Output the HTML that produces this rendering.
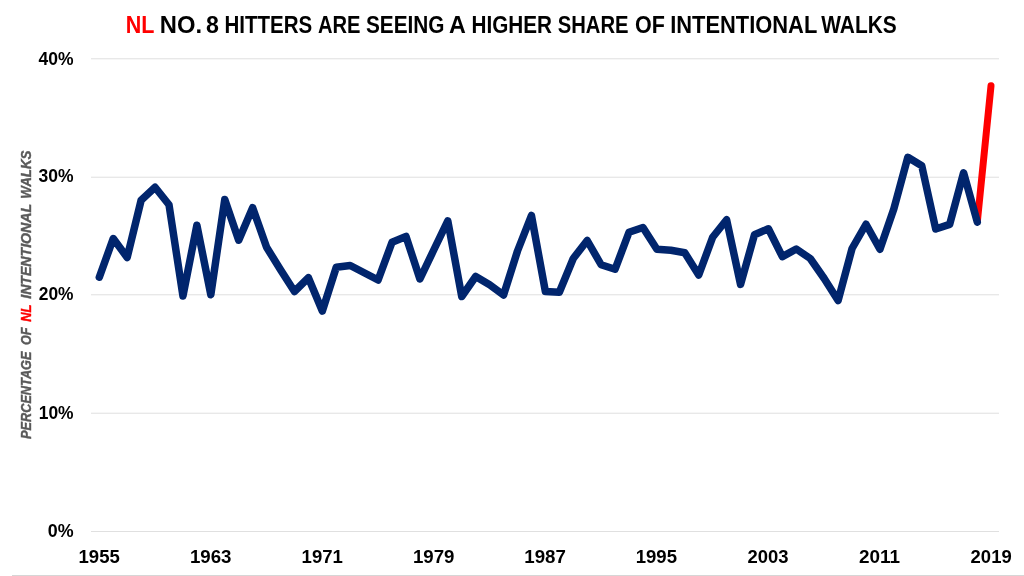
<!DOCTYPE html>
<html lang="en"><head><meta charset="utf-8"><title>NL No. 8 hitters are seeing a higher share of intentional walks</title>
<style>
html,body{margin:0;padding:0;background:#fff;}
body{width:1024px;height:576px;overflow:hidden;}
svg{display:block;}
text{font-family:"Liberation Sans",sans-serif;font-weight:bold;}
</style></head><body>
<svg role="img" aria-label="NL No. 8 hitters are seeing a higher share of intentional walks" width="1024" height="576" viewBox="0 0 1024 576">
<rect width="1024" height="576" fill="#fff"/>
<g shape-rendering="crispEdges">
<rect x="91" y="58" width="907.5" height="1" fill="#e8e8e8"/><rect x="91" y="59" width="907.5" height="1" fill="#f6f6f6"/>
<rect x="91" y="177" width="907.5" height="1" fill="#e8e8e8"/><rect x="91" y="176" width="907.5" height="1" fill="#f6f6f6"/>
<rect x="91" y="294" width="907.5" height="1" fill="#e8e8e8"/><rect x="91" y="295" width="907.5" height="1" fill="#f6f6f6"/>
<rect x="91" y="413" width="907.5" height="1" fill="#e8e8e8"/><rect x="91" y="412" width="907.5" height="1" fill="#f6f6f6"/>
<rect x="91" y="531" width="907.5" height="1" fill="#e0e0e0"/>
<rect x="12" y="575" width="1012" height="1" fill="#d6d6d6"/>
</g>
<text x="125.75" y="32.50" font-size="23.1" fill="#ff0000" textLength="28.68" lengthAdjust="spacingAndGlyphs">NL</text>
<text x="159.75" y="32.50" font-size="23.1" fill="#000" textLength="42.28" lengthAdjust="spacingAndGlyphs">NO.</text>
<text x="206.00" y="32.50" font-size="23.1" fill="#000" textLength="12.89" lengthAdjust="spacingAndGlyphs">8</text>
<text x="224.50" y="32.50" font-size="23.1" fill="#000" textLength="87.81" lengthAdjust="spacingAndGlyphs">HITTERS</text>
<text x="318.00" y="32.50" font-size="23.1" fill="#000" textLength="42.55" lengthAdjust="spacingAndGlyphs">ARE</text>
<text x="366.00" y="32.50" font-size="23.1" fill="#000" textLength="78.55" lengthAdjust="spacingAndGlyphs">SEEING</text>
<text x="449.00" y="32.50" font-size="23.1" fill="#000" textLength="16.85" lengthAdjust="spacingAndGlyphs">A</text>
<text x="471.50" y="32.50" font-size="23.1" fill="#000" textLength="80.55" lengthAdjust="spacingAndGlyphs">HIGHER</text>
<text x="557.75" y="32.50" font-size="23.1" fill="#000" textLength="70.78" lengthAdjust="spacingAndGlyphs">SHARE</text>
<text x="635.00" y="32.50" font-size="23.1" fill="#000" textLength="29.86" lengthAdjust="spacingAndGlyphs">OF</text>
<text x="670.25" y="32.50" font-size="23.1" fill="#000" textLength="147.03" lengthAdjust="spacingAndGlyphs">INTENTIONAL</text>
<text x="821.25" y="32.50" font-size="23.1" fill="#000" textLength="75.51" lengthAdjust="spacingAndGlyphs">WALKS</text>
<text x="38.50" y="64.50" font-size="18.2" fill="#000" textLength="35.02" lengthAdjust="spacingAndGlyphs">40%</text>
<text x="38.50" y="182.00" font-size="18.2" fill="#000" textLength="35.03" lengthAdjust="spacingAndGlyphs">30%</text>
<text x="38.75" y="300.25" font-size="18.2" fill="#000" textLength="34.78" lengthAdjust="spacingAndGlyphs">20%</text>
<text x="38.75" y="418.50" font-size="18.2" fill="#000" textLength="34.84" lengthAdjust="spacingAndGlyphs">10%</text>
<text x="47.75" y="536.50" font-size="18.2" fill="#000" textLength="25.81" lengthAdjust="spacingAndGlyphs">0%</text>
<text x="78.55" y="562.50" font-size="18.2" fill="#000" textLength="41.32" lengthAdjust="spacingAndGlyphs">1955</text>
<text x="189.93" y="562.50" font-size="18.2" fill="#000" textLength="41.59" lengthAdjust="spacingAndGlyphs">1963</text>
<text x="301.56" y="562.50" font-size="18.2" fill="#000" textLength="41.33" lengthAdjust="spacingAndGlyphs">1971</text>
<text x="412.95" y="562.50" font-size="18.2" fill="#000" textLength="41.59" lengthAdjust="spacingAndGlyphs">1979</text>
<text x="524.33" y="562.50" font-size="18.2" fill="#000" textLength="41.60" lengthAdjust="spacingAndGlyphs">1987</text>
<text x="635.71" y="562.50" font-size="18.2" fill="#000" textLength="41.33" lengthAdjust="spacingAndGlyphs">1995</text>
<text x="747.59" y="562.50" font-size="18.2" fill="#000" textLength="41.04" lengthAdjust="spacingAndGlyphs">2003</text>
<text x="858.97" y="562.50" font-size="18.2" fill="#000" textLength="41.04" lengthAdjust="spacingAndGlyphs">2011</text>
<text x="970.61" y="562.50" font-size="18.2" fill="#000" textLength="41.05" lengthAdjust="spacingAndGlyphs">2019</text>
<text transform="translate(30.60,439.00) rotate(-90)" font-size="14.2" font-style="italic" stroke="#595959" stroke-width="0.4" fill="#595959" textLength="87.50" lengthAdjust="spacingAndGlyphs">PERCENTAGE</text>
<text transform="translate(30.60,345.00) rotate(-90)" font-size="14.2" font-style="italic" stroke="#595959" stroke-width="0.4" fill="#595959" textLength="17.51" lengthAdjust="spacingAndGlyphs">OF</text>
<text transform="translate(30.60,321.75) rotate(-90)" font-size="14.2" font-style="italic" stroke="#ff0000" stroke-width="0.4" fill="#ff0000" textLength="17.31" lengthAdjust="spacingAndGlyphs">NL</text>
<text transform="translate(30.60,298.75) rotate(-90)" font-size="14.2" font-style="italic" stroke="#595959" stroke-width="0.4" fill="#595959" textLength="94.76" lengthAdjust="spacingAndGlyphs">INTENTIONAL</text>
<text transform="translate(30.60,198.75) rotate(-90)" font-size="14.2" font-style="italic" stroke="#595959" stroke-width="0.4" fill="#595959" textLength="48.28" lengthAdjust="spacingAndGlyphs">WALKS</text>
<line x1="977.46" y1="220.51" x2="991.00" y2="85.80" stroke="#ff0000" stroke-width="7" stroke-linecap="round"/>
<polyline points="99.30,277.25 113.24,238.50 127.18,257.45 141.12,200.25 155.06,187.25 169.00,204.75 182.94,296.00 196.88,225.25 210.82,294.75 224.76,199.50 238.70,240.20 252.64,207.75 266.58,247.25 280.52,269.75 294.46,291.50 308.40,277.75 322.34,311.00 336.28,267.25 350.22,265.50 364.16,272.75 378.10,280.00 392.04,242.25 405.98,236.50 419.92,279.00 433.86,249.75 447.80,220.90 461.74,296.50 475.68,276.50 489.62,284.75 503.56,295.00 517.50,251.00 531.44,215.50 545.38,291.50 559.32,292.25 573.26,258.50 587.20,240.50 601.14,264.75 615.08,269.25 629.02,232.25 642.96,227.50 656.90,249.25 670.84,250.25 684.78,252.75 698.72,274.95 712.66,237.25 726.60,219.75 740.54,284.45 754.48,234.75 768.42,228.75 782.36,256.65 796.30,249.00 810.24,258.50 824.18,278.50 838.12,300.50 852.06,248.50 866.00,224.25 879.94,249.25 893.88,208.75 907.82,157.25 921.76,165.80 935.70,229.00 949.64,224.40 963.58,172.85 977.30,222.10" fill="none" stroke="#01256d" stroke-width="7.5" stroke-linecap="round" stroke-linejoin="round"/>
</svg>
</body></html>
